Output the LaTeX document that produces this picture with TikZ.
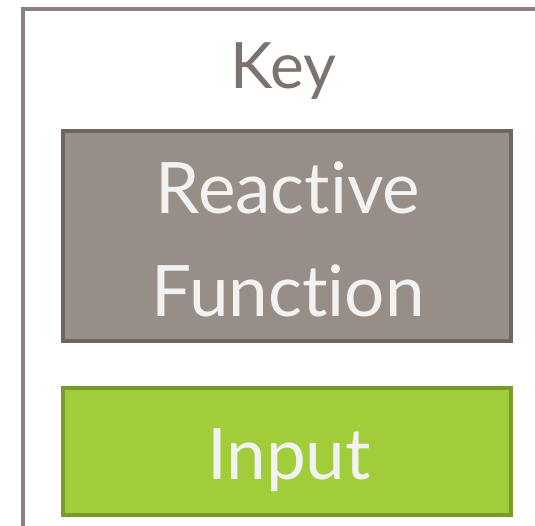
\documentclass[tikz,border=0pt]{standalone}
\usepackage{fontspec}
\setmainfont{Lato}[Ligatures={NoCommon,NoDiscretionary}]
\definecolor{framegray}{HTML}{8C827D}
\definecolor{keygray}{HTML}{7D736E}
\definecolor{rfill}{HTML}{978E88}
\definecolor{rdraw}{HTML}{6E6560}
\definecolor{ifill}{HTML}{A2CD3A}
\definecolor{idraw}{HTML}{7A9A2C}
\definecolor{boxtext}{HTML}{F2F2F2}
\begin{document}
\begin{tikzpicture}[x=1pt,y=1pt,
  legendbox/.style={line width=4pt},
  boxlabel/.style={anchor=base,inner sep=0pt,text=boxtext,font=\fontsize{71}{85}\selectfont},
  titlelabel/.style={anchor=base,inner sep=0pt,text=keygray,font=\fontsize{64}{77}\selectfont}]
\useasboundingbox (0,0) rectangle (535,526);
% legend frame (left and top edges)
\coordinate (fb) at (23,0);
\coordinate (fc) at (23,517);
\coordinate (fr) at (535,517);
\draw[framegray,line width=4pt] (fb) -- (fc) -- (fr);
% title
\node[titlelabel] (key) at (283,437) {Key};
% reactive function box
\filldraw[legendbox,fill=rfill,draw=rdraw] (63,185) rectangle (511,395);
\node[boxlabel] (reactive) at (288,312) {Reactive};
\node[boxlabel] (function) at (288,209) {Function};
% input box
\filldraw[legendbox,fill=ifill,draw=idraw] (63,11) rectangle (511,138);
\node[boxlabel] (input) at (289,46) {Input};
\end{tikzpicture}
\end{document}
